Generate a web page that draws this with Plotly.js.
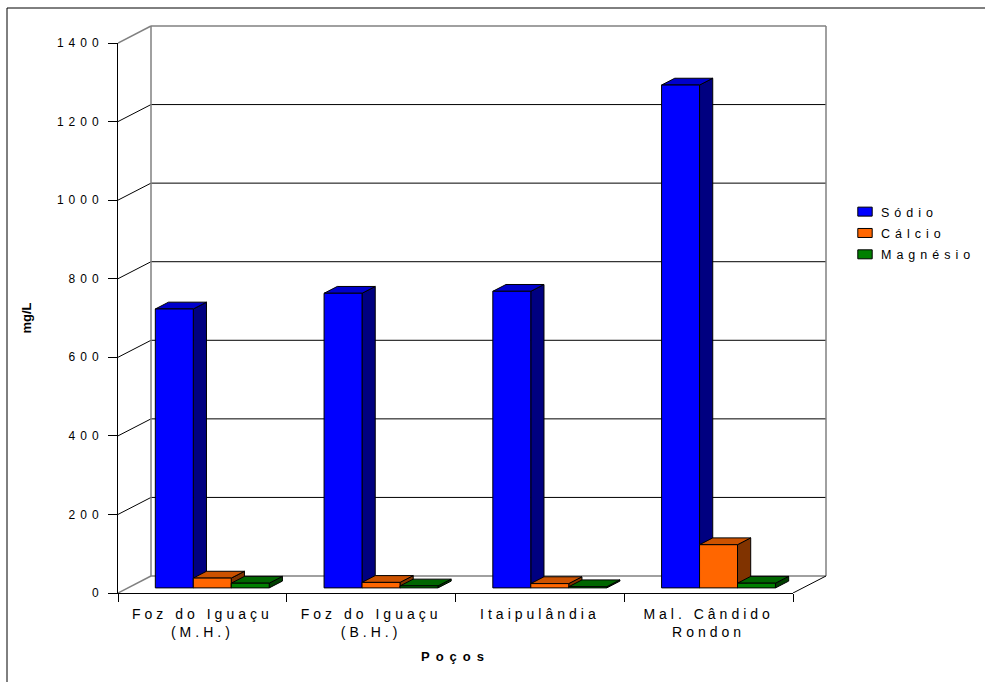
<!DOCTYPE html>
<html>
<head>
<meta charset="utf-8">
<script src="https://cdn.plot.ly/plotly-3.0.1.min.js"></script>
<style>
  html, body { margin: 0; padding: 0; background: #fff; }
  #chart { width: 985px; height: 682px; }
  /* wide character spacing of the chart texts */
  .xtick text { letter-spacing: 4px; }
  .ytick text { letter-spacing: 5px; }
  .legendtext { letter-spacing: 5px; }
  .xtitle { letter-spacing: 6px; }
  /* flatter legend swatches, closer to their labels */
  #chart .legend .legendpoints path {
    transform: translate(24px, 0) scale(1.2, 0.75);
    vector-effect: non-scaling-stroke;
  }
</style>
</head>
<body>
<div id="chart"></div>
<script>
// ---- data -------------------------------------------------------------
const categories = ['Foz do Iguaçu<br>(M.H.)', 'Foz do Iguaçu<br>(B.H.)', 'Itaipulândia', 'Mal. Cândido<br>Rondon'];
const seriesNames = ['Sódio', 'Cálcio', 'Magnésio'];
const sodio    = [710, 750, 755, 1280];
const calcio   = [25, 14, 11, 110];
const magnesio = [12, 5, 3, 12];
const yTicks   = [0, 200, 400, 600, 800, 1000, 1200, 1400];
const xTitle = 'Poços';
const yTitle = 'mg/L';

// ---- styles -----------------------------------------------------------
const frontColors = ['#0000FF', '#FF6600', '#008000'];
const topColors   = ['#0000CC', '#CC5200', '#006600'];
const sideColors  = ['#000080', '#803300', '#004000'];
const wallEdge = '#808080';

// ---- geometry of the pseudo-3D box (pixels) ---------------------------
const W = 985, H = 682;
const L = 118, R = 832, T = 20, B = 593;      // plot area
const PW = R - L, PH = B - T;
const frontTop = 43;                          // pixel row of the top tick on the front axis
const yMax = yTicks[yTicks.length - 1];
const k = (B - frontTop) / yMax;              // pixels per mg/L
const nCat = categories.length;
const catPx = 168.75;                         // pixels per category on the front plane
const frontRight = L + nCat * catPx;
const DX = 33, DY = 17;                       // full depth of the box
const barFront = 0.3, barBack = 0.7;          // bars occupy this slice of the depth
const bargap = 0.325;
const nSer = seriesNames.length;
const barW = (1 - bargap) / nSer;

// bar-plane axis ranges (the bars' front faces sit barFront deep)
const x2Range = [(0 - barFront * DX) / catPx - 0.5, (PW - barFront * DX) / catPx - 0.5];
const y2Range = [(-barFront * DY) / k, (PH - barFront * DY) / k];

// front-plane point (category index f, value v) pushed to depth d, in bar-plane units
function P(f, v, d) {
  return [f + (d - barFront) * DX / catPx, v + (d - barFront) * DY / k];
}
function seg(a, b, color, width) {
  return { type: 'line', xref: 'x2', yref: 'y2', x0: a[0], y0: a[1], x1: b[0], y1: b[1],
           line: { color: color, width: width }, layer: 'below' };
}
function poly(pts, fill) {
  const d = pts.map((p, i) => (i ? 'L' : 'M') + p[0] + ',' + p[1]).join(' ') + ' Z';
  return { type: 'path', xref: 'x2', yref: 'y2', path: d, fillcolor: fill,
           line: { color: '#000', width: 1 }, layer: 'below' };
}

const shapes = [];
const fL = -0.5, fR = nCat - 0.5;
// back wall and left wall grid
yTicks.forEach(v => {
  const edge = (v === 0 || v === yMax);
  if (v !== 0) shapes.push(seg(P(fL, v, 1), P(fR, v, 1), edge ? wallEdge : '#000', edge ? 1.5 : 1));
  shapes.push(seg(P(fL, v, 0), P(fL, v, 1), edge ? wallEdge : '#000', edge ? 1.5 : 1));
});
shapes.push(seg(P(fL, 0, 1), P(fL, yMax, 1), wallEdge, 1.5));
shapes.push(seg(P(fR, 0, 1), P(fR, yMax, 1), wallEdge, 1.5));
shapes.push(seg(P(fL, 0, 1), P(fR, 0, 1), wallEdge, 1.5));
shapes.push(seg(P(fR, 0, 0), P(fR, 0, 1), '#000', 1));

// top and side faces of every bar
const bdx = (barBack - barFront) * DX / catPx;
const bdy = (barBack - barFront) * DY / k;
const seriesValues = [sodio, calcio, magnesio];
categories.forEach((c, ci) => {
  seriesValues.forEach((vals, si) => {
    const v = vals[ci];
    const left = ci - (1 - bargap) / 2 + si * barW;
    const right = left + barW;
    shapes.push(poly([[right, 0], [right + bdx, bdy], [right + bdx, v + bdy], [right, v]], sideColors[si]));
    shapes.push(poly([[left, v], [right, v], [right + bdx, v + bdy], [left + bdx, v + bdy]], topColors[si]));
  });
});

// outer frame of the chart area
const px2x = px => (px - L) / PW;
const py2y = py => (B - py) / PH;
shapes.push({ type: 'rect', xref: 'paper', yref: 'paper', x0: px2x(7), y0: py2y(700), x1: px2x(1000), y1: py2y(8),
              line: { color: '#000', width: 1 }, fillcolor: 'rgba(0,0,0,0)', layer: 'below' });

const traces = seriesValues.map((vals, si) => ({
  type: 'bar', name: seriesNames[si], legendgroup: seriesNames[si],
  x: categories.map((_, i) => i), y: vals,
  xaxis: 'x2', yaxis: 'y2',
  marker: { color: frontColors[si], line: { color: '#000', width: 1 } },
  hovertemplate: '%{y}<extra>' + seriesNames[si] + '</extra>'
}));
// the front-plane axes carry the tick labels; this empty-mode trace spans their extent
traces.push({ type: 'scatter', mode: 'none', x: [fL, fR], y: [0, yMax], xaxis: 'x', yaxis: 'y',
              showlegend: false, hoverinfo: 'skip' });

const tickFont = { family: 'Liberation Sans, Arial, sans-serif', size: 12, color: '#000' };
const layout = {
  width: W, height: H,
  margin: { l: L, r: W - R, t: T, b: H - B, pad: 0 },
  paper_bgcolor: '#fff', plot_bgcolor: 'rgba(0,0,0,0)',
  font: tickFont,
  barmode: 'group', bargap: bargap, bargroupgap: 0,
  showlegend: true,
  legend: { xref: 'container', yref: 'container', x: 841 / W, xanchor: 'left', y: 1 - 197 / H, yanchor: 'top',
            bgcolor: 'rgba(0,0,0,0)', borderwidth: 0, font: { size: 12.5 },
            traceorder: 'grouped', tracegroupgap: 2.1 },
  xaxis: {
    type: 'linear', domain: [0, (frontRight - L) / PW], anchor: 'y',
    range: [fL, fR], tickmode: 'array',
    tickvals: categories.map((_, i) => i), ticktext: categories,
    ticks: '', showgrid: false, zeroline: false,
    showline: true, linecolor: '#000', linewidth: 1,
    minor: { tickmode: 'array', tickvals: categories.map((_, i) => i - 0.5).concat([fR]),
             ticks: 'outside', ticklen: 8, tickcolor: '#000', tickwidth: 1, showgrid: false },
    tickfont: { size: 14 }, ticklabelstandoff: 8,
    title: { text: xTitle, font: { size: 13, weight: 'bold' }, standoff: 12 }
  },
  yaxis: {
    domain: [0, (B - frontTop) / PH], anchor: 'x',
    range: [0, yMax], tickmode: 'array', tickvals: yTicks,
    ticks: 'outside', ticklen: 9, tickcolor: '#000', tickwidth: 1,
    showgrid: false, zeroline: false, showline: true, linecolor: '#000', linewidth: 1,
    ticklabelstandoff: 2,
    title: { text: yTitle, font: { size: 13, weight: 'bold' }, standoff: 22 }
  },
  xaxis2: { domain: [0, 1], anchor: 'y2', range: x2Range, visible: false, fixedrange: true },
  yaxis2: { domain: [0, 1], anchor: 'x2', range: y2Range, visible: false, fixedrange: true },
  shapes: shapes
};

Plotly.newPlot('chart', traces, layout, { displayModeBar: false, staticPlot: true });
</script>
</body>
</html>
